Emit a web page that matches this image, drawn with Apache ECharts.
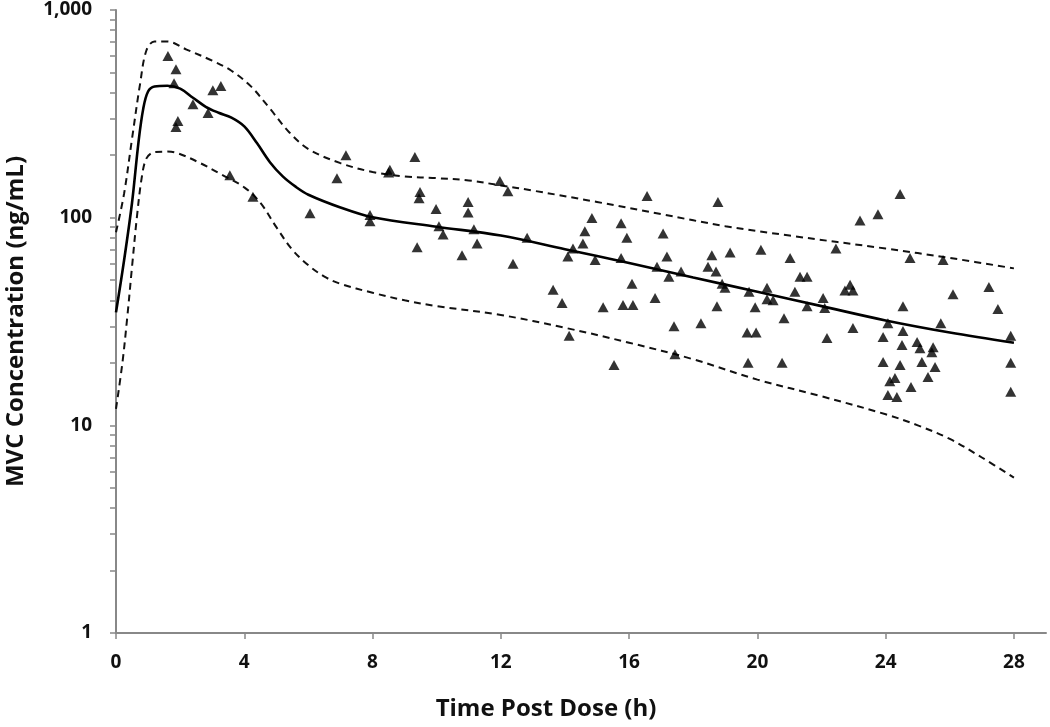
<!DOCTYPE html>
<html>
<head>
<meta charset="utf-8">
<script src="https://cdn.jsdelivr.net/npm/echarts@6/dist/echarts.min.js"></script>
<style>
html,body{margin:0;padding:0;background:#fff;}
#chart{width:1050px;height:727px;}
</style>
</head>
<body>
<div id="chart"></div>
<script>
// ---- Data ----
var xTicks = [0, 4, 8, 12, 16, 20, 24, 28];
var yLabels = [1, 10, 100, 1000];
var yTicks = [1,2,3,4,5,6,7,8,9,10,20,30,40,50,60,70,80,90,100,200,300,400,500,600,700,800,900,1000];

// Observed concentrations (time h, conc ng/mL)
var obsTime = [1.62,1.87,1.81,2.40,2.87,3.02,3.27,1.93,1.87,3.55,4.27,6.05,7.17,6.89,9.32,8.54,8.50,9.48,9.45,9.98,
  10.98,10.98,7.92,7.92,10.07,10.20,11.16,11.26,9.39,10.79,12.38,12.82,11.97,12.22,16.56,18.77,14.84,15.75,14.62,15.93,
  17.06,14.56,14.25,14.09,14.94,15.75,17.18,16.87,17.24,17.62,18.58,19.15,20.11,18.46,18.71,18.90,18.99,19.74,20.30,20.30,
  20.49,13.63,13.91,16.09,16.81,15.19,15.81,16.12,18.74,19.93,17.40,18.24,19.68,19.96,14.13,17.43,15.53,19.71,24.45,23.20,
  23.76,22.45,24.76,25.79,21.02,21.33,21.55,21.17,21.55,22.05,22.10,22.73,22.89,22.98,20.83,22.17,22.98,24.54,24.07,25.72,
  24.54,23.92,24.51,24.98,25.07,25.48,25.44,23.92,24.45,25.13,25.54,25.32,24.29,24.13,24.79,24.07,24.35,20.77,27.22,26.10,
  27.50,27.90,27.90,27.90];
var obsConc = [600,519,444,352,319,411,430,292,273,160,126,105,200,155,196,170,165,133,124,110,
  119,106,103,96,91,83,88,75,72,66,60,80,150,134,127,119,99.6,94,86,80,
  84,75,71,65,62.5,64,65,58,52,55,66,68,70,58,55,48,46,44,46,40.5,
  40,45,38.8,48,41,37,38,38,37.5,37,30,31,28,28,27,22,19.5,20,130,97,
  104,71,64,62.5,64,52,52,44,37.5,41,36.7,44.6,47.5,44.6,32.8,26.3,29.4,37.5,31,31,
  28.5,26.6,24.4,25.2,23.5,23.8,22.5,20.2,19.5,20.2,19.1,17.1,16.9,16.3,15.3,14.0,13.7,20,46.4,42.8,
  36.3,27,20,14.5];

// Population mean prediction (solid)
var meanTime = [0,0.25,0.5,0.7,0.85,1.0,1.2,1.6,2.0,2.4,2.8,3.2,3.6,4.0,4.4,4.8,5.2,5.6,6.0,7.0,8.0,10.0,12.0,14.0,16.0,18.0,20.0,22.0,24.0,26.0,28.0];
var meanConc = [35,62,118,230,335,405,428,432,418,378,342,320,303,275,228,185,158,141,129,112,100.5,90.5,82,70.5,60.5,51.5,44,37.5,32,28,25];

// Upper prediction bound (dashed)
var upTime = [0,0.25,0.5,0.75,0.95,1.2,1.6,2.2,3.0,3.6,4.2,4.8,5.4,6.0,7.0,8.0,9.0,10.0,11.0,12.0,13.0,15.0,17.0,19.0,21.0,24.0,26.0,28.0];
var upConc = [85,130,240,440,640,705,705,645,570,510,430,335,258,214,183,166,158,155,151,143,135,119,104,91,82,71,64,57];

// Lower prediction bound (dashed)
var loTime = [0,0.2,0.35,0.5,0.65,0.8,0.95,1.2,1.6,1.9,2.6,3.3,4.0,4.5,5.0,5.5,6.0,6.5,7.0,8.0,9.0,10.0,12.0,14.0,16.0,18.0,20.0,22.0,24.0,25.0,26.0,27.0,28.0];
var loConc = [12,20,33,58,100,155,193,207,208,205,184,161,140,118,90,70,59,52,48,43.5,40,37.5,34,29.5,25,20.8,16.6,13.8,11.3,10,8.6,7,5.6];

function zip(a, b) { return a.map(function (v, i) { return [v, b[i]]; }); }

var chart = echarts.init(document.getElementById('chart'));
var FONT = 'Open Sans';
chart.setOption({
  animation: false,
  backgroundColor: '#fff',
  grid: { left: 116, right: 4, top: 10, bottom: 94, containLabel: false, outerBoundsMode: 'none' },
  xAxis: {
    type: 'value', min: 0, max: 29, interval: 4,
    name: 'Time Post Dose (h)', nameLocation: 'middle', nameGap: 64,
    nameTextStyle: { fontFamily: FONT, fontWeight: 'bold', fontSize: 24, color: '#111', padding: [0, 70, 0, 0] },
    axisLine: { show: true, onZero: false, lineStyle: { color: '#888', width: 2 } },
    axisTick: { show: true, length: 6, inside: false, customValues: xTicks, lineStyle: { color: '#888', width: 1.5 } },
    axisLabel: { customValues: xTicks, margin: 20, fontFamily: FONT, fontWeight: 'bold', fontSize: 19, color: '#111' },
    splitLine: { show: false }
  },
  yAxis: {
    type: 'log', logBase: 10, min: 1, max: 1000,
    name: 'MVC Concentration (ng/mL)', nameLocation: 'middle', nameGap: 88,
    nameTextStyle: { fontFamily: FONT, fontWeight: 'bold', fontSize: 24, color: '#111' },
    axisLine: { show: true, lineStyle: { color: '#888', width: 2 } },
    axisTick: { show: true, length: 6, customValues: yTicks, lineStyle: { color: '#888', width: 1.5 } },
    axisLabel: {
      customValues: yLabels, margin: 24, fontFamily: FONT, fontWeight: 'bold', fontSize: 19, color: '#111',
      formatter: function (v) { return Math.round(v).toLocaleString('en-US'); }
    },
    splitLine: { show: false }
  },
  series: [
    {
      type: 'line', data: zip(upTime, upConc), showSymbol: false, smooth: 0.35,
      lineStyle: { color: '#111', width: 2, type: [7, 5] }, z: 2
    },
    {
      type: 'line', data: zip(loTime, loConc), showSymbol: false, smooth: 0.35,
      lineStyle: { color: '#111', width: 2, type: [7, 5] }, z: 2
    },
    {
      type: 'line', data: zip(meanTime, meanConc), showSymbol: false, smooth: 0.35,
      lineStyle: { color: '#000', width: 2.6 }, z: 3
    },
    {
      type: 'scatter', data: zip(obsTime, obsConc), symbol: 'triangle', symbolSize: [11, 10],
      itemStyle: { color: '#000' }, z: 4
    }
  ]
});
</script>
</body>
</html>
